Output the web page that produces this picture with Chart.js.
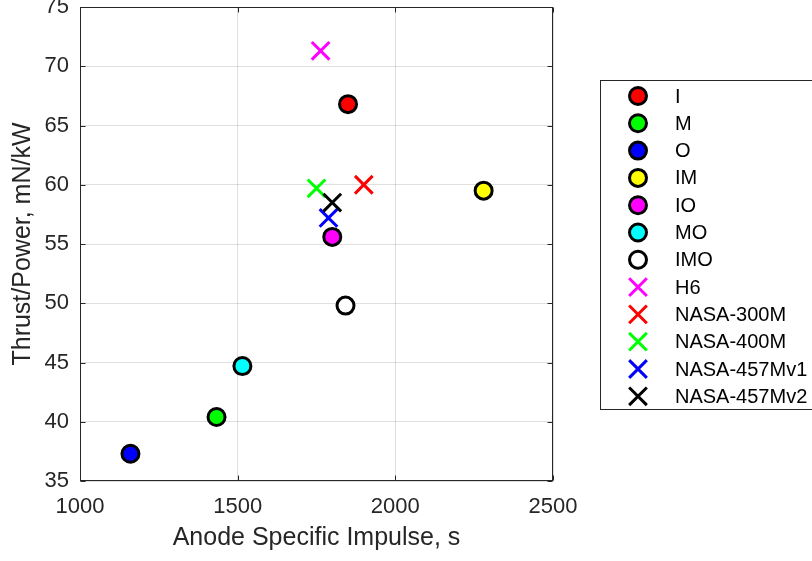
<!DOCTYPE html>
<html>
<head>
<meta charset="utf-8">
<script src="https://cdn.jsdelivr.net/npm/chart.js@4.4.0/dist/chart.umd.min.js"></script>
<style>
  html, body { margin: 0; padding: 0; background: #fff; }
</style>
</head>
<body>
<canvas id="thrustChart" width="812" height="561"></canvas>
<script>
// thruster names, in legend order
const labels = ['I', 'M', 'O', 'IM', 'IO', 'MO', 'IMO', 'H6', 'NASA-300M', 'NASA-400M', 'NASA-457Mv1', 'NASA-457Mv2'];
// anode specific impulse, s
const impulse = [1850, 1433, 1160, 2280, 1800, 1515, 1842, 1763, 1900, 1750, 1788, 1800];
// thrust/power, mN/kW
const thrustPower = [66.8, 40.4, 37.3, 59.5, 55.6, 44.7, 49.8, 71.3, 60.0, 59.7, 57.2, 58.5];
const xTicks = [1000, 1500, 2000, 2500];
const yTicks = [35, 40, 45, 50, 55, 60, 65, 70, 75];

// marker look per thruster
const colors = ['#ff0000', '#00ff00', '#0000ff', '#ffff00', '#ff00ff', '#00ffff', '#ffffff',
                '#ff00ff', '#ff0000', '#00ff00', '#0000ff', '#000000'];
const markers = ['circle', 'circle', 'circle', 'circle', 'circle', 'circle', 'circle',
                 'crossRot', 'crossRot', 'crossRot', 'crossRot', 'crossRot'];

const FONT = '"Liberation Sans", Arial, Helvetica, sans-serif';
const AXIS_COLOR = '#262626';

Chart.defaults.font.family = FONT;
Chart.defaults.color = AXIS_COLOR;

const datasets = labels.map((name, i) => {
    const isCircle = markers[i] === 'circle';
    return {
        label: name,
        data: [{ x: impulse[i], y: thrustPower[i] }],
        pointStyle: markers[i],
        pointRadius: isCircle ? 8.5 : 12.5,
        pointBackgroundColor: colors[i],
        pointBorderColor: isCircle ? '#000000' : colors[i],
        pointBorderWidth: 3,
        order: labels.length - i // later ones on top, like matlab
    };
});

// legend marker (drawn by hand, the chart one is switched off)
function drawMarker(ctx, style, color, x, y) {
    ctx.save();
    ctx.lineWidth = 3;
    if (style === 'circle') {
        ctx.beginPath();
        ctx.arc(x, y, 8.5, 0, Math.PI * 2);
        ctx.fillStyle = color;
        ctx.fill();
        ctx.strokeStyle = '#000';
        ctx.stroke();
    } else {
        const d = 12.5 * Math.SQRT1_2;
        ctx.strokeStyle = color;
        ctx.beginPath();
        ctx.moveTo(x - d, y - d); ctx.lineTo(x + d, y + d);
        ctx.moveTo(x - d, y + d); ctx.lineTo(x + d, y - d);
        ctx.stroke();
    }
    ctx.restore();
}

const boxAndLegend = {
    id: 'boxAndLegend',
    afterDraw(chart) {
        const { ctx, chartArea: a, scales: { x, y } } = chart;
        const L = Math.round(a.left) + 0.5, R = Math.round(a.right) - 0.5;
        const T = Math.round(a.top) + 0.5, B = Math.round(a.bottom) - 0.5;
        ctx.save();
        ctx.strokeStyle = AXIS_COLOR;
        ctx.lineWidth = 1;
        ctx.strokeRect(L, T, R - L, B - T);

        // inward ticks on all four sides
        const tl = 5;
        ctx.beginPath();
        xTicks.forEach(v => {
            const px = Math.round(x.getPixelForValue(v)) + 0.5;
            ctx.moveTo(px, B); ctx.lineTo(px, B - tl);
            ctx.moveTo(px, T); ctx.lineTo(px, T + tl);
        });
        yTicks.forEach(v => {
            const py = Math.round(y.getPixelForValue(v)) + 0.5;
            ctx.moveTo(L, py); ctx.lineTo(L + tl, py);
            ctx.moveTo(R, py); ctx.lineTo(R - tl, py);
        });
        ctx.stroke();

        // legend box
        const lx = 600.5, ly = 80.5;
        ctx.fillStyle = '#fff';
        ctx.fillRect(lx, ly, 240, 329);
        ctx.strokeRect(lx, ly, 240, 329);
        ctx.font = '20px ' + FONT;
        ctx.textBaseline = 'middle';
        ctx.textAlign = 'left';
        labels.forEach((name, i) => {
            const cy = 96 + i * 27.3;
            drawMarker(ctx, markers[i], colors[i], 638, cy);
            ctx.fillStyle = '#000';
            ctx.fillText(name, 675, cy + 1);
        });
        ctx.restore();
    }
};

// no auto padding, so the plot box sits where matlab put it
function noPad(s) {
    s.paddingLeft = 0; s.paddingRight = 0; s.paddingTop = 0; s.paddingBottom = 0;
}

new Chart(document.getElementById('thrustChart'), {
    type: 'scatter',
    data: { datasets: datasets },
    options: {
        responsive: false,
        animation: false,
        layout: { autoPadding: false, padding: { top: 7, right: 259, left: 0, bottom: 0 } },
        plugins: {
            legend: { display: false },
            tooltip: { enabled: false }
        },
        scales: {
            x: {
                type: 'linear',
                min: 1000,
                max: 2500,
                afterBuildTicks: s => { s.ticks = xTicks.map(v => ({ value: v })); },
                afterFit: s => { s.height = 80; noPad(s); },
                grid: { color: 'rgba(38,38,38,0.15)', drawTicks: false },
                border: { display: false },
                ticks: { font: { size: 22 }, padding: 13, maxRotation: 0, color: AXIS_COLOR,
                         callback: v => String(v) },
                title: {
                    display: true,
                    text: 'Anode Specific Impulse, s',
                    font: { size: 25 },
                    color: AXIS_COLOR,
                    padding: { top: 0, bottom: 8 }
                }
            },
            y: {
                type: 'linear',
                min: 35,
                max: 75,
                afterBuildTicks: s => { s.ticks = yTicks.map(v => ({ value: v })); },
                afterFit: s => { s.width = 80; noPad(s); },
                grid: { color: 'rgba(38,38,38,0.15)', drawTicks: false },
                border: { display: false },
                ticks: { font: { size: 22 }, padding: 11, color: AXIS_COLOR,
                         callback: v => String(v) },
                title: {
                    display: true,
                    text: 'Thrust/Power, mN/kW',
                    font: { size: 25 },
                    color: AXIS_COLOR,
                    padding: { top: 8, bottom: 0 }
                }
            }
        }
    },
    plugins: [boxAndLegend]
});
</script>
</body>
</html>
